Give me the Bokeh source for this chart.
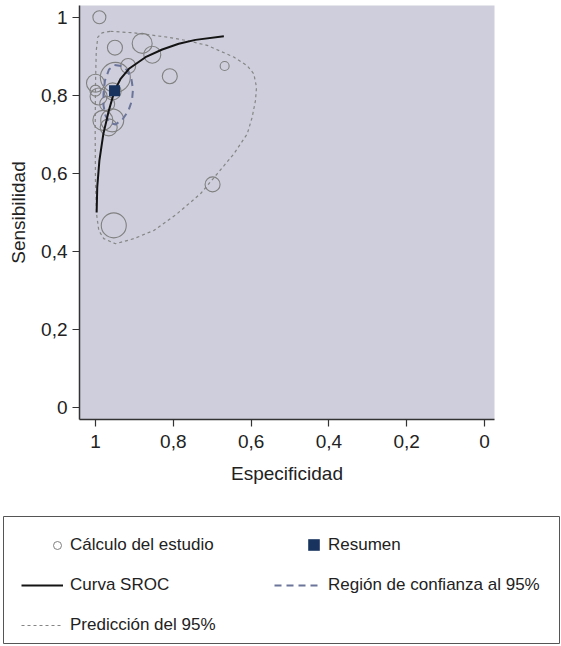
from bokeh.plotting import figure
from bokeh.models import Range1d, FixedTicker, Legend, LegendItem, ColumnDataSource
from bokeh.layouts import column
from bokeh.embed import file_html
from bokeh.resources import INLINE

# ---------------- data ----------------
study_spec = [0.990, 0.950, 0.880, 0.854, 0.809, 0.668, 0.916, 0.949, 1.000, 1.000,
              0.992, 0.956, 0.970, 0.981, 0.957, 0.966, 0.699, 0.953]
study_sens = [1.000, 0.922, 0.933, 0.904, 0.849, 0.875, 0.875, 0.846, 0.831, 0.812,
              0.797, 0.810, 0.778, 0.736, 0.736, 0.718, 0.572, 0.467]
study_size = [13, 15, 20, 17, 15, 9, 15, 30, 18, 11, 17, 17, 15, 20, 23, 17, 15, 25]

summary_spec = [0.951]
summary_sens = [0.812]

sroc_spec = [0.997, 0.9955, 0.990, 0.980, 0.966, 0.951, 0.935, 0.914, 0.8715, 0.8285,
             0.786, 0.743, 0.670]
sroc_sens = [0.500, 0.565, 0.633, 0.700, 0.760, 0.812, 0.843, 0.868, 0.8976, 0.9173,
             0.932, 0.942, 0.951]

conf_spec = [0.9512, 0.9332, 0.9177, 0.9075, 0.9036, 0.9062, 0.9152, 0.9306, 0.9486,
             0.9640, 0.9743, 0.9794, 0.9794, 0.9756, 0.9653, 0.9512]
conf_sens = [0.8776, 0.8751, 0.8635, 0.8405, 0.8149, 0.7867, 0.7611, 0.7381, 0.7253,
             0.7304, 0.7483, 0.7739, 0.8047, 0.8380, 0.8661, 0.8776]

pred_spec = [0.9614, 0.9015, 0.8157, 0.7643, 0.7129, 0.6445, 0.6100, 0.5931, 0.5861,
             0.5887, 0.5972, 0.6100, 0.6445, 0.6872, 0.7301, 0.7900, 0.8501, 0.9015,
             0.9486, 0.9787, 0.9915, 0.9974, 1.0000, 1.0008, 1.0000, 0.9980, 0.9940,
             0.9830, 0.9614]
pred_sens = [0.964, 0.960, 0.949, 0.940, 0.928, 0.898, 0.876, 0.855, 0.821,
             0.787, 0.744, 0.701, 0.650, 0.599, 0.548, 0.497, 0.454, 0.433,
             0.420, 0.433, 0.454, 0.497, 0.573, 0.701, 0.829, 0.915, 0.949,
             0.960, 0.964]

tick_values = [0, 0.2, 0.4, 0.6, 0.8, 1]
tick_labels = ["0", "0,2", "0,4", "0,6", "0,8", "1"]

x_label = "Especificidad"
y_label = "Sensibilidad"
lbl_study = "Cálculo del estudio"
lbl_summary = "Resumen"
lbl_sroc = "Curva SROC"
lbl_conf = "Región de confianza al 95%"
lbl_pred = "Predicción del 95%"

# ---------------- styles ----------------
FONT = "Liberation Sans"
BG = "#cecedc"
STUDY = "#808080"
CURVE = "#141414"
CONF = "#6b7499"
PRED = "#858585"
SUMC = "#17335e"
AXC = "#333333"
TXT = "#222222"

p = figure(width=561, height=511,
           x_range=Range1d(1.0411, -0.0257), y_range=Range1d(-0.030, 1.030),
           output_backend="svg", toolbar_location=None,
           min_border_left=79, min_border_right=67, min_border_top=5, min_border_bottom=92,
           background_fill_color=BG, border_fill_color="white", outline_line_color=None)
p.grid.visible = False

for ax in (p.xaxis[0], p.yaxis[0]):
    ax.ticker = FixedTicker(ticks=tick_values)
    ax.major_label_overrides = dict(zip(tick_values, tick_labels))
    ax.major_tick_out = 7
    ax.major_tick_in = 0
    ax.minor_tick_out = 0
    ax.minor_tick_in = 0
    ax.axis_line_color = AXC
    ax.axis_line_width = 1.5
    ax.major_tick_line_color = AXC
    ax.major_tick_line_width = 1.2
    ax.major_label_text_font = FONT
    ax.major_label_text_font_size = "19px"
    ax.major_label_text_color = TXT
    ax.axis_label_text_font = FONT
    ax.axis_label_text_font_size = "19px"
    ax.axis_label_text_font_style = "normal"
    ax.axis_label_text_color = TXT

p.xaxis.axis_label = x_label
p.yaxis.axis_label = y_label
p.xaxis.major_label_standoff = 8
p.xaxis.axis_label_standoff = 12
p.yaxis.major_label_standoff = 5
p.yaxis.axis_label_standoff = 9

p.line(pred_spec, pred_sens, line_color=PRED, line_width=1.2, line_dash="3 3")
src = ColumnDataSource(dict(x=study_spec, y=study_sens, s=study_size))
p.scatter("x", "y", size="s", source=src, marker="circle", fill_color=None,
          line_color=STUDY, line_width=1.1)
p.line(conf_spec, conf_sens, line_color=CONF, line_width=2, line_dash="7 5")
p.line(sroc_spec, sroc_sens, line_color=CURVE, line_width=2)
p.scatter(summary_spec, summary_sens, marker="square", size=11, fill_color=SUMC, line_color=None)

# ---------------- legend panel (its frame outline is the legend box) ----------------
lf = figure(width=561, height=135, output_backend="svg", toolbar_location=None,
            x_range=Range1d(0, 1), y_range=Range1d(0, 1),
            x_axis_location=None, y_axis_location=None,
            min_border_left=3, min_border_right=2, min_border_top=5, min_border_bottom=3,
            background_fill_color="white", border_fill_color="white",
            outline_line_color="#555555", outline_line_width=1)
lf.grid.visible = False

for fig in (p, lf):
    try:
        fig.frame_align = False
    except AttributeError:
        pass

# legend swatches: same styles as the plot, with a point kept outside the visible range
off = dict(x=[-5], y=[-5])
r_study = lf.scatter("x", "y", source=ColumnDataSource(off), marker="circle", size=8,
                     fill_color=None, line_color=STUDY, line_width=1)
r_sum = lf.scatter("x", "y", source=ColumnDataSource(off), marker="square", size=11,
                   fill_color=SUMC, line_color=None)
r_sroc = lf.line("x", "y", source=ColumnDataSource(off), line_color=CURVE, line_width=2)
r_conf = lf.line("x", "y", source=ColumnDataSource(off), line_color=CONF, line_width=2,
                 line_dash="7 5")
r_pred = lf.line("x", "y", source=ColumnDataSource(off), line_color=PRED, line_width=1.2,
                 line_dash="3 3")


def mk_leg(items, loc, gw, gh, standoff, spacing=20):
    return Legend(items=items, location=loc, glyph_width=gw, glyph_height=gh,
                  label_standoff=standoff, spacing=spacing, padding=0, margin=0,
                  border_line_color=None, background_fill_alpha=0,
                  label_text_font=FONT, label_text_font_size="17px",
                  label_text_color=TXT, label_height=20)


lf.add_layout(mk_leg([LegendItem(label=lbl_study, renderers=[r_study])], (44, 88), 20, 20, 3), "center")
lf.add_layout(mk_leg([LegendItem(label=lbl_sroc, renderers=[r_sroc]),
                      LegendItem(label=lbl_pred, renderers=[r_pred])], (18, 8), 42, 20, 7), "center")
lf.add_layout(mk_leg([LegendItem(label=lbl_summary, renderers=[r_sum])], (296, 84), 29, 29, 0), "center")
lf.add_layout(mk_leg([LegendItem(label=lbl_conf, renderers=[r_conf])], (271, 48), 47, 20, 7), "center")

layout = column(p, lf, spacing=0)
open("out.html", "w").write(file_html(layout, INLINE))
